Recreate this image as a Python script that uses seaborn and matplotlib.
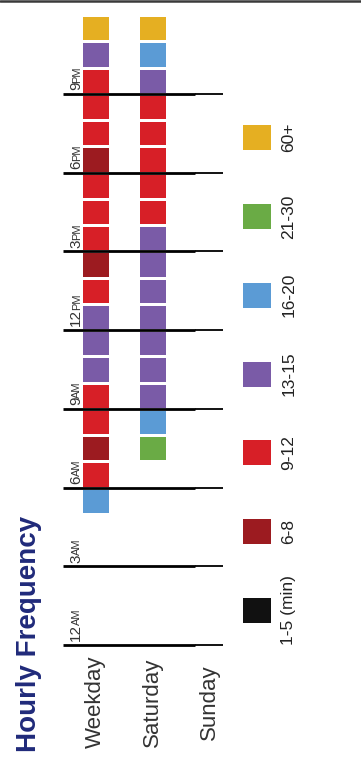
import numpy as np
import pandas as pd
import matplotlib
matplotlib.use('Agg')
import matplotlib.pyplot as plt
from matplotlib.colors import ListedColormap
from matplotlib.patches import Rectangle
from matplotlib.lines import Line2D
import seaborn as sns

# data (one value per hour, 12AM..11PM)
levels = ['1-5 (min)', '6-8', '9-12', '13-15', '16-20', '21-30', '60+']
level_colors = ['#111111', '#9c1b20', '#d71f27', '#7a5ba7', '#5b9bd5', '#6aab45', '#e5af22']
days = ['Weekday', 'Saturday', 'Sunday']
weekday = [None] * 5 + ['16-20', '9-12', '6-8', '9-12', '9-12', '13-15', '13-15', '13-15',
                        '9-12', '6-8', '9-12', '9-12', '9-12', '6-8', '9-12', '9-12', '9-12',
                        '13-15', '60+']
saturday = [None] * 7 + ['21-30', '16-20'] + ['13-15'] * 7 + ['9-12'] * 5 + ['13-15', '16-20', '60+']
sunday = [None] * 24
tick_hours = [0, 3, 6, 9, 12, 15, 18, 21]
tick_nums = ['12', '3', '6', '9', '12', '3', '6', '9']
tick_ampm = ['AM', 'AM', 'AM', 'AM', 'PM', 'PM', 'PM', 'PM']

sns.set_style('white')
plt.rcParams['font.family'] = ['Liberation Sans', 'DejaVu Sans']

#codes per hour, spacer columns between the days
def codes(series):
    return [np.nan if v is None else levels.index(v) for v in series]

df = pd.DataFrame({'Weekday': codes(weekday), 'gap1': [np.nan] * 24,
                   'Saturday': codes(saturday), 'gap2': [np.nan] * 24,
                   'Sunday': codes(sunday)}, index=range(24))

W, H = 361, 761
fig = plt.figure(figsize=(W / 100, H / 100), dpi=100)
x0 = -0.664
ax = fig.add_axes([62.6 / W, (H - 645) / H, (223.3 - 62.6) / W, (645 - 15) / H])
sns.heatmap(df, cmap=ListedColormap(level_colors), vmin=-0.5, vmax=6.5, cbar=False,
            linewidths=1.8, linecolor='white', xticklabels=False, yticklabels=False, ax=ax)
ax.set_xlim(x0, 5)
ax.set_ylim(0, 24)
ax.set_xticks([])
ax.set_yticks([])
for s in ax.spines.values():
    s.set_visible(False)

# hour lines and labels
for h, num, ap in zip(tick_hours, tick_nums, tick_ampm):
    ax.plot([x0, 4.02], [h, h], color='black', lw=2.0, solid_capstyle='butt', clip_on=False, zorder=3)
    ax.plot([4.02, 5.0], [h, h], color='black', lw=1.3, solid_capstyle='butt', clip_on=False, zorder=3)
    t = ax.text(-0.05, h + 0.14, num, rotation=90, rotation_mode='anchor', ha='left',
                va='baseline', fontsize=11, color='#333333')
    ax.annotate(ap, xy=(-0.05, 1.0), xycoords=('data', t), xytext=(0, -0.8),
                textcoords='offset points', rotation=90, rotation_mode='anchor',
                ha='left', va='baseline', fontsize=8, color='#333333')

# day labels under the grid
for i, d in enumerate(days):
    ax.text(i * 2 + 0.5, -2.18, d, rotation=90, ha='center', va='center', fontsize=16,
            color='#333333', clip_on=False)

# title
fig.text(29 / W, 1 - 634 / H, 'Hourly Frequency', rotation=90, ha='center', va='center',
         fontsize=20, fontweight='bold', color='#202a7a')

# legend, bottom to top
for k, (lab, col) in enumerate(zip(levels, level_colors)):
    cy = 610.5 - k * 78.8
    fig.add_artist(Rectangle((243 / W, 1 - (cy + 12.5) / H), 28 / W, 25 / H,
                             facecolor=col, edgecolor='none', transform=fig.transFigure))
    fig.text(289 / W, 1 - cy / H, lab, rotation=90, ha='center', va='center',
             fontsize=12.5, color='#222222')

# frame line at the top
fig.add_artist(Line2D([0, 1], [1 - 1.2 / H, 1 - 1.2 / H], color='#3a3a3a', lw=1.8,
                      transform=fig.transFigure))

fig.savefig('out.png', dpi=100)
